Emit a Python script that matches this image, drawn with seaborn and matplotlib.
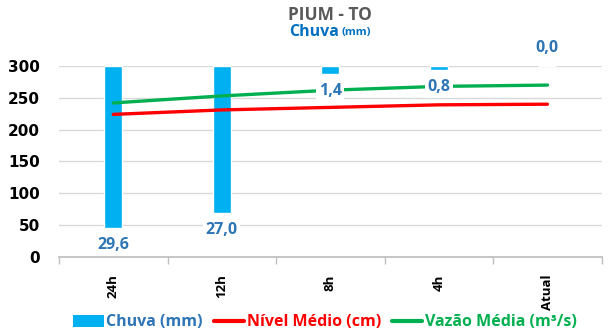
import matplotlib
matplotlib.use("Agg")
import matplotlib.pyplot as plt
import seaborn as sns
import numpy as np
import pandas as pd
from matplotlib.patches import Patch
from matplotlib.lines import Line2D

# Rain, level and flow for the PIUM - TO station
periods = ["24h", "12h", "8h", "4h", "Atual"]
chuva_mm = [29.6, 27.0, 1.4, 0.8, 0.0]
nivel_cm = [224, 231, 235, 239, 240]
vazao_m3s = [242, 253, 262, 268, 270]
level_ticks = [0, 50, 100, 150, 200, 250, 300]
rain_axis_max = 35

sns.set_theme(style="white")
plt.rcParams["font.family"] = ["Open Sans", "DejaVu Sans"]

BAR_BLUE = "#00B0F0"
RED = "#FF0000"
GREEN = "#00B050"
LABEL_BLUE = "#2E75B6"
TITLE_BLUE = "#0070C0"
GRID = "#D9D9D9"

df = pd.DataFrame({"periodo": periods, "chuva": chuva_mm,
                   "nivel": nivel_cm, "vazao": vazao_m3s})
df["pos"] = np.arange(len(df))

fig = plt.figure(figsize=(6.09, 3.31), dpi=100)
ax = fig.add_axes([0.097, 0.2236, 0.891, 0.577])   # level/flow scale + grid
ax2 = ax.twinx()                                     # rain bars (inverted)
ax3 = ax.twinx()                                     # level/flow lines on top

# rain bars hanging from the top
sns.barplot(data=df, x="periodo", y="chuva", color=BAR_BLUE, width=0.165,
            saturation=1, ax=ax2, zorder=2)
ax2.set_ylim(rain_axis_max, 0)
ax2.set_yticks([])
ax2.set_ylabel("")
for s in ax2.spines.values():
    s.set_visible(False)

# level and flow lines
sns.lineplot(data=df, x="pos", y="nivel", color=RED, lw=2.4, ax=ax3)
sns.lineplot(data=df, x="pos", y="vazao", color=GREEN, lw=2.4, ax=ax3)
ax3.set_ylim(0, 300)
ax3.set_yticks([])
ax3.set_ylabel("")
ax3.set_xlabel("")
for s in ax3.spines.values():
    s.set_visible(False)

# value labels for rain, placed in rain units but drawn above the lines
for i, v in enumerate(chuva_mm):
    txt = f"{v:.1f}".replace(".", ",")
    dy = 18 if v == 0 else -17
    ax3.annotate(txt, (i, v), xycoords=ax2.transData, xytext=(0, dy),
                 textcoords="offset pixels", ha="center", va="center",
                 fontsize=11.5, fontweight="bold", color=LABEL_BLUE, zorder=5,
                 annotation_clip=False,
                 bbox=dict(boxstyle="square,pad=0.15", fc="white", ec="none"))

# primary axis styling
ax.set_ylim(0, 300)
ax.set_yticks(level_ticks)
ax.set_yticklabels([str(t) for t in level_ticks], family="DejaVu Sans",
                   fontweight="bold", fontsize=11, color="black")
ax.yaxis.grid(True, color=GRID, lw=1)
ax.set_axisbelow(True)
ax.tick_params(axis="y", length=0, pad=14)

ax.set_xlim(-0.5, len(periods) - 0.5)
ax.set_xticks(np.arange(len(periods)))
ax.set_xticklabels(periods, rotation=90, fontweight="bold", fontsize=9.5,
                   color="black")
ax.set_xticks(np.arange(-0.5, len(periods), 1), minor=True)
ax.tick_params(axis="x", which="major", length=0, pad=12.5)
ax.tick_params(axis="x", which="minor", length=5, width=1, color="#BFBFBF",
               direction="out", bottom=True)
ax.set_xlabel("")
ax.set_ylabel("")
for k in ("top", "right", "left"):
    ax.spines[k].set_visible(False)
ax.spines["bottom"].set_color("#BFBFBF")
for a in (ax2, ax3):
    a.set_xlim(-0.5, len(periods) - 0.5)

# titles
fig.text(330 / 609, 1 - 15 / 331, "PIUM - TO", ha="center", va="center",
         fontsize=12.5, fontweight="bold", color="#595959")
fig.text(339 / 609, 1 - 32 / 331, "Chuva", ha="right", va="center",
         fontsize=11.5, fontweight="bold", color=TITLE_BLUE)
fig.text(342 / 609, 1 - 32.5 / 331, "(mm)", ha="left", va="center",
         fontsize=8, fontweight="bold", color=TITLE_BLUE)

# legend
handles = [Patch(facecolor=BAR_BLUE, edgecolor="none"),
           Line2D([], [], color=RED, lw=3),
           Line2D([], [], color=GREEN, lw=3)]
labels = ["Chuva (mm)", "Nível Médio (cm)", "Vazão Média (m³/s)"]
fig.legend(handles, labels, loc="center", bbox_to_anchor=(325 / 609, 1 - 322.5 / 331),
           ncol=3, frameon=False, prop={"weight": "bold", "size": 11.5},
           handlelength=1.9, handletextpad=0.15, columnspacing=0.7,
           labelcolor=[LABEL_BLUE, RED, GREEN], borderpad=0.2)

fig.savefig("out.png", dpi=100)
